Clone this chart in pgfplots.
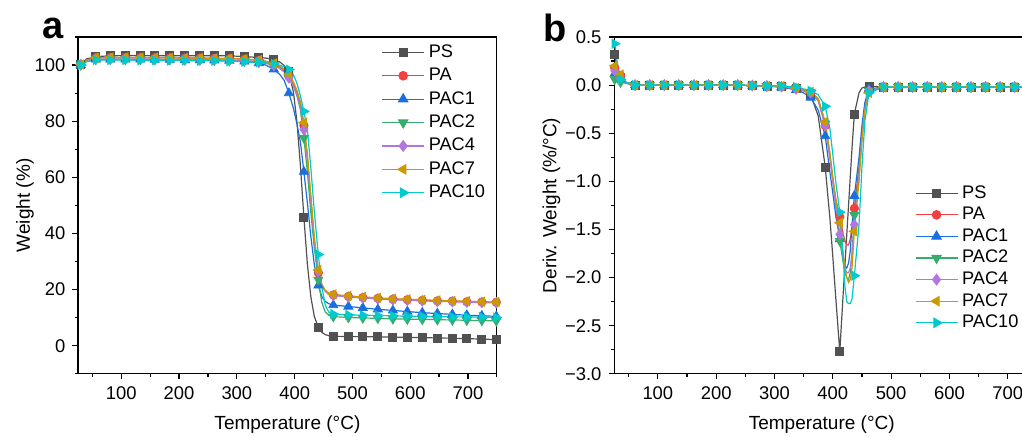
\documentclass[border=0pt]{standalone}
\usepackage{fontspec}
\setmainfont{Liberation Sans}
\usepackage{pgfplots}
\usepackage{pgfplotstable}
\pgfplotsset{compat=1.18}

\definecolor{cPS}{HTML}{515151}
\definecolor{cPA}{HTML}{F14040}
\definecolor{cPi}{HTML}{1A6FDF}
\definecolor{cPii}{HTML}{37AD6B}
\definecolor{cPiv}{HTML}{B177DE}
\definecolor{cPvii}{HTML}{CC9900}
\definecolor{cPx}{HTML}{00CBCC}

% M = 1 : a point that carries a marker
\pgfplotstableread{
T   M  PS    PA    PAC1  PAC2  PAC4  PAC7  PAC10
30  1  100.3 100.2 100.0 100.0 100.1 100.2 100.0
40  0  102.2 101.8 101.4 101.4 101.6 101.8 101.2
56  1  103.0 102.6 102.0 102.0 102.2 102.6 101.8
81  1  103.3 102.7 102.0 102.0 102.2 102.7 101.8
107 1  103.4 102.7 102.0 102.0 102.2 102.7 101.8
133 1  103.4 102.7 102.0 102.0 102.2 102.7 101.7
158 1  103.3 102.6 101.9 101.9 102.1 102.6 101.7
184 1  103.3 102.6 101.9 101.9 102.1 102.6 101.6
210 1  103.3 102.5 101.8 101.8 102.0 102.5 101.6
236 1  103.3 102.5 101.8 101.8 102.0 102.5 101.5
261 1  103.3 102.4 101.7 101.7 101.9 102.4 101.5
287 1  103.3 102.3 101.6 101.6 101.8 102.3 101.4
313 1  103.0 102.1 101.3 101.4 101.6 102.1 101.2
338 1  102.7 101.7 100.7 101.0 101.2 101.8 101.0
350 0  102.5 101.3 100.0 100.6 100.8 101.4 100.8
364 1  101.9 100.3 98.5  99.9  99.9  100.6 100.4
375 0  101.0 99.2  96.5  98.8  98.7  99.5  99.9
382 0  99.8  98.0  94.5  97.6  97.5  98.5  99.3
390 1  97.6  96.0  90.0  95.5  95.5  96.8  98.4
398 0  90.2  93.0  84.5  92.5  92.5  94.0  96.5
404 0  79.7  90.0  79.0  89.0  89.5  91.0  93.5
410 0  64.1  86.0  72.5  84.0  85.0  87.0  89.0
416 1  45.8  78.5  62.0  74.0  77.0  79.5  83.5
422 0  29.2  67.0  51.0  62.0  66.0  68.5  77.0
428 0  17.5  51.5  39.0  47.5  52.0  54.0  63.5
434 0  10.5  36.5  29.0  35.0  37.5  39.0  48.0
441 1  6.5   26.0  21.5  23.5  26.5  27.0  32.5
447 0  4.8   21.5  17.5  15.5  21.5  22.0  21.0
453 0  4.0   19.5  15.8  12.0  19.3  19.8  14.5
459 0  3.6   18.6  15.0  10.9  18.4  18.8  12.0
467 1  3.4   18.1  14.5  10.4  17.9  18.3  11.3
493 1  3.3   17.6  14.0  10.1  17.4  17.8  11.0
518 1  3.25  17.2  13.5  9.9   17.0  17.4  10.9
544 1  3.2   16.9  13.0  9.8   16.7  17.1  10.8
570 1  3.1   16.6  12.6  9.6   16.4  16.8  10.7
595 1  3.0   16.4  12.2  9.5   16.2  16.6  10.6
621 1  2.9   16.2  11.8  9.4   16.0  16.4  10.5
647 1  2.8   16.0  11.5  9.3   15.8  16.2  10.4
673 1  2.7   15.9  11.2  9.2   15.7  16.0  10.3
698 1  2.55  15.7  10.9  9.1   15.5  15.9  10.3
724 1  2.4   15.6  10.7  9.0   15.4  15.7  10.2
749 1  2.2   15.5  10.5  8.9   15.3  15.6  10.1
}\dataA

\pgfplotstableread{
T   M  PS     PA     PAC1   PAC2   PAC4   PAC7   PAC10
26  1  0.32   0.18   0.12   0.06   0.15   0.20   0.43
30  0  0.18   0.13   0.10   0.05   0.11   0.14   0.25
36  1  0.08   0.10   0.06   0.03   0.07   0.11   0.06
45  0  0.03   0.03   0.02   0.02   0.02   0.03   0.03
61  1  0.00   0.00   0.00   0.00   0.00   0.00   0.00
86  1  0.00   0.00   0.00   0.00   0.00   0.00   0.00
111 1  0.00   0.00   0.00   0.00   0.00   0.00   0.00
136 1  0.00   0.00   0.00   0.00   0.00   0.00   0.00
162 1  0.00   0.00   0.00   0.00   0.00   0.00   0.00
187 1  0.00   0.00   0.00   0.00   0.00   0.00   0.00
212 1  0.00   0.00   0.00   0.00   0.00   0.00   0.00
237 1  0.00   0.00   0.00   0.00   0.00   0.00   0.00
262 1  -0.005 -0.005 -0.005 -0.005 -0.005 -0.005 -0.005
287 1  -0.01  -0.01  -0.01  -0.01  -0.01  -0.01  -0.01
312 1  -0.015 -0.02  -0.02  -0.01  -0.015 -0.01  -0.01
337 1  -0.03  -0.04  -0.05  -0.03  -0.04  -0.03  -0.02
350 0  -0.05  -0.06  -0.08  -0.05  -0.06  -0.05  -0.04
362 1  -0.10  -0.08  -0.13  -0.07  -0.08  -0.07  -0.06
375 0  -0.32  -0.16  -0.26  -0.14  -0.16  -0.14  -0.10
387 1  -0.85  -0.42  -0.53  -0.40  -0.42  -0.38  -0.22
395 0  -1.38  -0.75  -0.90  -0.72  -0.75  -0.70  -0.45
400 0  -1.78  -0.98  -1.12  -0.98  -1.00  -0.95  -0.72
405 0  -2.20  -1.18  -1.35  -1.25  -1.25  -1.18  -1.00
412 1  -2.77  -1.37  -1.60  -1.62  -1.55  -1.43  -1.32
418 0  -2.15  -1.55  -1.80  -1.85  -1.80  -1.75  -1.80
421 0  -1.85  -1.62  -1.88  -1.95  -1.90  -1.90  -2.10
424 0  -1.55  -1.66  -1.90  -2.00  -1.95  -2.00  -2.25
427 0  -1.25  -1.66  -1.85  -2.02  -1.95  -2.05  -2.27
430 0  -0.95  -1.60  -1.72  -1.95  -1.90  -2.02  -2.27
433 0  -0.65  -1.48  -1.45  -1.75  -1.75  -1.90  -2.22
437 1  -0.30  -1.28  -1.15  -1.35  -1.45  -1.52  -1.98
445 0  -0.08  -0.85  -0.75  -0.90  -0.95  -1.00  -1.45
450 0  -0.03  -0.50  -0.42  -0.52  -0.55  -0.58  -0.85
455 0  -0.02  -0.22  -0.18  -0.24  -0.25  -0.27  -0.38
462 1  -0.01  -0.06  -0.04  -0.06  -0.06  -0.08  -0.08
487 1  -0.02  -0.02  -0.02  -0.02  -0.02  -0.02  -0.02
512 1  -0.02  -0.02  -0.02  -0.02  -0.02  -0.02  -0.02
537 1  -0.02  -0.02  -0.02  -0.02  -0.02  -0.02  -0.02
562 1  -0.02  -0.02  -0.02  -0.02  -0.02  -0.02  -0.02
587 1  -0.02  -0.02  -0.02  -0.02  -0.02  -0.02  -0.02
612 1  -0.02  -0.02  -0.02  -0.02  -0.02  -0.02  -0.02
637 1  -0.02  -0.02  -0.02  -0.02  -0.02  -0.02  -0.02
662 1  -0.02  -0.02  -0.02  -0.02  -0.02  -0.02  -0.02
687 1  -0.02  -0.02  -0.02  -0.02  -0.02  -0.02  -0.02
712 1  -0.02  -0.02  -0.02  -0.02  -0.02  -0.02  -0.02
737 1  -0.02  -0.02  -0.02  -0.02  -0.02  -0.02  -0.02
}\dataB

% #1 table  #2 column  #3 colour  #4 mark  #5 mark size  #6 rotation
\newcommand{\ser}[6]{%
  \addplot[forget plot, color=#3, line width=0.6pt, mark=none] table[x=T,y=#2]{#1};
  \addplot[forget plot, color=#3, only marks, mark=#4, mark size=#5,
     mark options={solid, fill=#3, draw=#3, rotate=#6},
     restrict expr to domain={\thisrow{M}}{0.5:1.5}] table[x=T,y=#2]{#1};
}
\newcommand{\leg}[5]{%
  \addlegendimage{color=#1, line width=0.6pt, mark=#2, mark size=#3,
     mark options={solid, fill=#1, draw=#1, rotate=#4}}
  \addlegendentry{#5}
}

\pgfplotsset{
  myaxis/.style={
    scale only axis,
    height=168.5pt,
    xmin=25,
    xtick={100,200,300,400,500,600,700},
    xticklabels={100,200,300,400,500,600,700},
    minor xtick={50,150,250,350,450,550,650,750},
    tick align=outside,
    xtick pos=left, ytick pos=left,
    major tick length=2.8pt, minor tick length=1.6pt,
    tick style={black, line width=0.6pt},
    minor tick style={black, line width=0.6pt},
    axis line style={black, line width=0.6pt},
    tick label style={font=\fontsize{9.2}{10}\selectfont},
    label style={font=\fontsize{9.5}{11}\selectfont},
    xlabel={Temperature (°C)},
    legend cell align=left,
    legend image code/.code={\draw[mark repeat=2, mark phase=2] plot coordinates {(0pt,0pt) (10.5pt,0pt) (21pt,0pt)};},
  },
}

\begin{document}
\begin{tikzpicture}
\path[use as bounding box] (-39pt,-31.5pt) rectangle (472.15pt,187pt);

\begin{axis}[myaxis,
  at={(0pt,0pt)}, anchor=south west,
  width=209.5pt,
  xmax=750, ymin=-10, ymax=110,
  ytick={0,20,40,60,80,100},
  yticklabels={0,20,40,60,80,100},
  minor ytick={-10,10,30,50,70,90,110},
  ylabel={Weight (\%)},
  xlabel style={at={(axis description cs:0.5,-0.1513)}, anchor=center},
  ylabel style={at={(axis description cs:-0.1265,0.5)}, anchor=center, rotate=0},
  legend style={draw=none, fill=none, at={(0.7248,0.986)}, anchor=north west,
     inner sep=0pt, outer sep=0pt, row sep=1pt,
     font=\fontsize{9.1}{10}\selectfont,
     nodes={inner ysep=1pt, text height=6.8pt, text depth=1.9pt}},
]
\ser{\dataA}{PS}{cPS}{square*}{2pt}{0}
\ser{\dataA}{PA}{cPA}{*}{2.1pt}{0}
\ser{\dataA}{PAC1}{cPi}{triangle*}{2.6pt}{0}
\ser{\dataA}{PAC2}{cPii}{triangle*}{2.6pt}{180}
\ser{\dataA}{PAC4}{cPiv}{diamond*}{2.6pt}{0}
\ser{\dataA}{PAC7}{cPvii}{triangle*}{2.6pt}{90}
\ser{\dataA}{PAC10}{cPx}{triangle*}{2.6pt}{-90}
\leg{cPS}{square*}{2pt}{0}{PS}
\leg{cPA}{*}{2.1pt}{0}{PA}
\leg{cPi}{triangle*}{2.6pt}{0}{PAC1}
\leg{cPii}{triangle*}{2.6pt}{180}{PAC2}
\leg{cPiv}{diamond*}{2.6pt}{0}{PAC4}
\leg{cPvii}{triangle*}{2.6pt}{90}{PAC7}
\leg{cPx}{triangle*}{2.6pt}{-90}{PAC10}
\end{axis}

\begin{axis}[myaxis,
  at={(268.15pt,0pt)}, anchor=south west,
  width=204pt,
  xmax=724.5, ymin=-3, ymax=0.5,
  axis x line*=box, axis y line*=left,
  ytick={-3,-2.5,-2,-1.5,-1,-0.5,0,0.5},
  yticklabels={−3.0,−2.5,−2.0,−1.5,−1.0,−0.5,0.0,0.5},
  minor ytick={-2.75,-2.25,-1.75,-1.25,-0.75,-0.25,0.25},
  ylabel={Deriv. Weight (\%/°C)},
  xlabel style={at={(axis description cs:0.509,-0.1513)}, anchor=center},
  ylabel style={at={(axis description cs:-0.1534,0.5)}, anchor=center, rotate=0},
  legend style={draw=none, fill=none, at={(0.7375,0.568)}, anchor=north west,
     inner sep=0pt, outer sep=0pt, row sep=0.1pt,
     font=\fontsize{9.1}{10}\selectfont,
     nodes={inner ysep=1pt, text height=6.8pt, text depth=1.9pt}},
]
\ser{\dataB}{PS}{cPS}{square*}{2pt}{0}
\ser{\dataB}{PA}{cPA}{*}{2.1pt}{0}
\ser{\dataB}{PAC1}{cPi}{triangle*}{2.6pt}{0}
\ser{\dataB}{PAC2}{cPii}{triangle*}{2.6pt}{180}
\ser{\dataB}{PAC4}{cPiv}{diamond*}{2.6pt}{0}
\ser{\dataB}{PAC7}{cPvii}{triangle*}{2.6pt}{90}
\ser{\dataB}{PAC10}{cPx}{triangle*}{2.6pt}{-90}
\leg{cPS}{square*}{2pt}{0}{PS}
\leg{cPA}{*}{2.1pt}{0}{PA}
\leg{cPi}{triangle*}{2.6pt}{0}{PAC1}
\leg{cPii}{triangle*}{2.6pt}{180}{PAC2}
\leg{cPiv}{diamond*}{2.6pt}{0}{PAC4}
\leg{cPvii}{triangle*}{2.6pt}{90}{PAC7}
\leg{cPx}{triangle*}{2.6pt}{-90}{PAC10}
\end{axis}

\node[anchor=base west, inner sep=0pt, font=\fontsize{19}{20}\selectfont\bfseries] at (-18pt,167.85pt) {a};
\node[anchor=base west, inner sep=0pt, font=\fontsize{19}{20}\selectfont\bfseries] at (232.65pt,166.15pt) {b};
\end{tikzpicture}
\end{document}
